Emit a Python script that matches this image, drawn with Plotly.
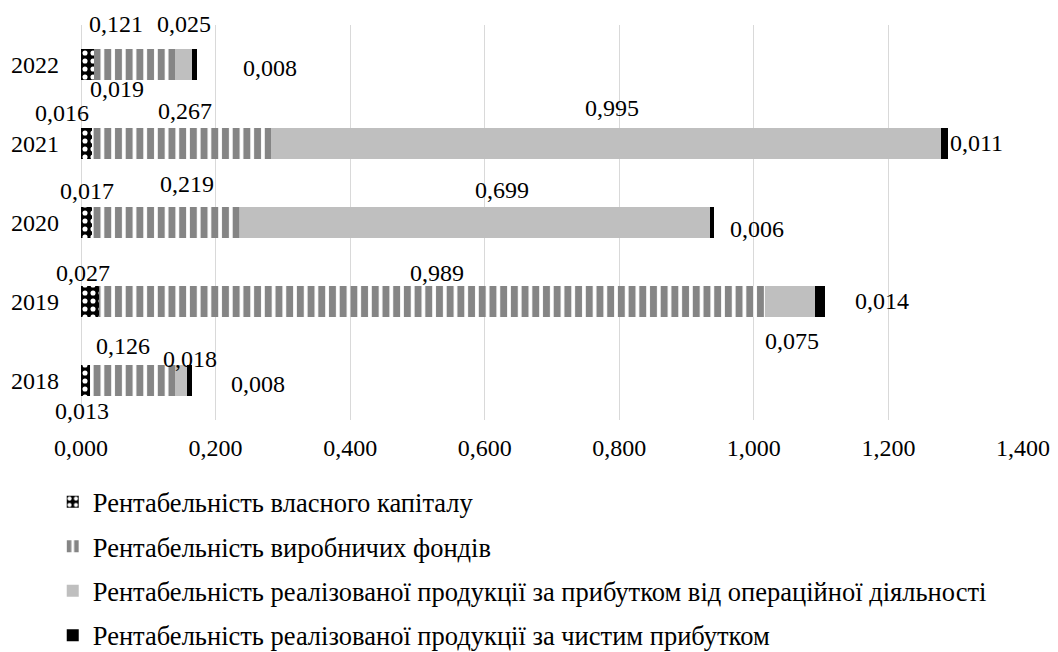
import plotly.graph_objects as go

# Роки та показники рентабельності
years = ["2018", "2019", "2020", "2021", "2022"]
series_names = [
    "Рентабельність власного капіталу",
    "Рентабельність виробничих фондів",
    "Рентабельність реалізованої продукції за прибутком від операційної діяльності",
    "Рентабельність реалізованої продукції за чистим прибутком",
]
equity = [0.013, 0.027, 0.017, 0.016, 0.019]
production_funds = [0.126, 0.989, 0.219, 0.267, 0.121]
operating_sales = [0.018, 0.075, 0.699, 0.995, 0.025]
net_sales = [0.008, 0.014, 0.006, 0.011, 0.008]
x_ticks = [0.0, 0.2, 0.4, 0.6, 0.8, 1.0, 1.2, 1.4]

series_values = [equity, production_funds, operating_sales, net_sales]

FONT = "Liberation Serif, Times New Roman, serif"
FS = 24
LEGEND_FS = 26.5

markers = [
    dict(color="black",
         pattern=dict(shape=".", fgcolor="white", bgcolor="black", fgopacity=1,
                      size=8, solidity=0.32)),
    dict(color="#858585",
         pattern=dict(shape="|", fgcolor="#858585", bgcolor="white", fgopacity=1,
                      size=10.7, solidity=0.65)),
    dict(color="#bfbfbf"),
    dict(color="black"),
]

# Label offsets (pixels) relative to the centre of each segment, per year
label_shift = {
    "2018": [(-3, -30), (-9, 35), (9, 22), (69, -3)],
    "2019": [(-7, 29), (5, 29), (2, -39), (62, 1)],
    "2020": [(0, 32), (21, 39), (27, 33), (45, -6)],
    "2021": [(-24, 31), (3, 33), (6, 36), (32, 1)],
    "2022": [(30, -24), (-18, 41), (0, 41), (75, -3)],
}

fig = go.Figure()
for name, vals, mk in zip(series_names, series_values, markers):
    fig.add_trace(go.Bar(
        y=years, x=vals, name=name, orientation="h",
        marker=dict(line=dict(width=0), **mk),
        legendgroup=name,
    ))


def fmt(v):
    return f"{v:.3f}".replace(".", ",")


annotations = []
for i, yr in enumerate(years):
    start = 0.0
    for k, vals in enumerate(series_values):
        v = vals[i]
        dx, dy = label_shift[yr][k]
        # category axis: y given as the category index
        annotations.append(dict(
            x=start + v / 2, y=i, xref="x", yref="y",
            text=fmt(v), showarrow=False,
            xshift=dx, yshift=dy,
            font=dict(family=FONT, size=FS, color="black"),
        ))
        start += v

fig.update_layout(
    width=1058, height=652,
    barmode="stack", bargap=0.61,
    separators=", ",
    paper_bgcolor="white", plot_bgcolor="white",
    margin=dict(l=81, r=35, t=25, b=232, autoexpand=False),
    font=dict(family=FONT, size=FS, color="black"),
    annotations=annotations,
    legend=dict(
        orientation="v", x=-0.03, xanchor="left", y=-0.147, yanchor="top",
        traceorder="grouped", tracegroupgap=7, itemwidth=30,
        font=dict(family=FONT, size=LEGEND_FS, color="black"),
        bgcolor="rgba(0,0,0,0)",
    ),
    xaxis=dict(
        range=[0, 1.4], tickvals=x_ticks, tickformat=".3f",
        showgrid=True, gridcolor="#d9d9d9", gridwidth=1,
        zeroline=True, zerolinecolor="#d9d9d9", zerolinewidth=1,
        showline=False, ticks="", ticklabelstandoff=11,
        fixedrange=True,
    ),
    yaxis=dict(
        type="category",
        categoryorder="array", categoryarray=years,
        range=[-0.5, len(years) - 0.5],
        showgrid=False, showline=False, ticks="",
        ticklabelstandoff=21,
    ),
)

fig.write_html("out.html")
